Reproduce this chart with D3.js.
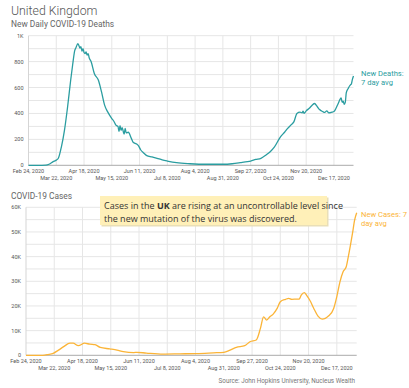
<!DOCTYPE html>
<html>
<head>
<meta charset="utf-8">
<script src="https://cdnjs.cloudflare.com/ajax/libs/d3/7.8.5/d3.min.js"></script>
<style>
  body { margin: 0; background: #fff; }
  svg { display: block; }
</style>
</head>
<body>
<div id="chart"></div>
<script>
// Data (7 day averages, UK)
var deathDates = ["2020-02-24","2020-03-08","2020-03-12","2020-03-15","2020-03-19","2020-03-22","2020-03-24","2020-03-27","2020-03-30","2020-04-02","2020-04-05","2020-04-07","2020-04-09","2020-04-10","2020-04-12","2020-04-13","2020-04-14","2020-04-15","2020-04-16","2020-04-17","2020-04-18","2020-04-19","2020-04-20","2020-04-21","2020-04-22","2020-04-23","2020-04-25","2020-04-28","2020-05-02","2020-05-05","2020-05-08","2020-05-11","2020-05-15","2020-05-17","2020-05-19","2020-05-21","2020-05-22","2020-05-23","2020-05-24","2020-05-25","2020-05-27","2020-05-28","2020-05-29","2020-05-31","2020-06-03","2020-06-05","2020-06-08","2020-06-10","2020-06-12","2020-06-15","2020-06-18","2020-06-23","2020-06-28","2020-07-03","2020-07-08","2020-07-17","2020-07-30","2020-08-16","2020-09-01","2020-09-09","2020-09-17","2020-09-24","2020-09-27","2020-10-02","2020-10-07","2020-10-12","2020-10-16","2020-10-20","2020-10-26","2020-10-30","2020-11-02","2020-11-05","2020-11-08","2020-11-11","2020-11-14","2020-11-16","2020-11-17","2020-11-18","2020-11-20","2020-11-23","2020-11-26","2020-11-28","2020-12-01","2020-12-03","2020-12-06","2020-12-08","2020-12-10","2020-12-12","2020-12-15","2020-12-17","2020-12-19","2020-12-21","2020-12-23","2020-12-24","2020-12-25","2020-12-26","2020-12-27","2020-12-28","2020-12-29","2020-12-31","2021-01-01","2021-01-02","2021-01-03","2021-01-04","2021-01-05"];
var deathValues = [0,0,1,8,28,40,54,143,272,450,656,780,887,905,938,925,905,915,880,900,870,862,875,850,862,830,797,708,656,566,464,412,361,340,310,300,260,305,270,290,240,285,250,255,208,175,165,150,120,95,75,65,54,42,33,20,12,8,8,12,20,28,33,45,54,80,105,140,220,255,285,310,335,400,410,405,418,400,420,440,465,477,450,430,415,408,420,405,410,415,440,475,510,520,485,495,470,485,560,595,610,620,630,665,689];

var caseDates = ["2020-02-24","2020-03-11","2020-03-16","2020-03-21","2020-03-26","2020-03-31","2020-04-06","2020-04-09","2020-04-14","2020-04-20","2020-04-25","2020-04-30","2020-05-05","2020-05-14","2020-05-21","2020-05-27","2020-06-06","2020-06-09","2020-06-18","2020-07-04","2020-07-20","2020-08-05","2020-08-21","2020-08-31","2020-09-06","2020-09-12","2020-09-20","2020-09-25","2020-10-01","2020-10-05","2020-10-08","2020-10-11","2020-10-14","2020-10-17","2020-10-21","2020-10-24","2020-10-29","2020-11-01","2020-11-04","2020-11-09","2020-11-11","2020-11-13","2020-11-16","2020-11-18","2020-11-22","2020-11-25","2020-11-29","2020-12-03","2020-12-06","2020-12-09","2020-12-14","2020-12-17","2020-12-20","2020-12-23","2020-12-26","2020-12-28","2021-01-01","2021-01-03","2021-01-05"];
var caseValues = [0,0,300,800,2100,3500,4900,4900,3900,4900,4500,4300,3200,2600,2100,1500,1100,1200,900,500,600,700,1000,1200,2100,3200,3900,5500,6200,10900,15600,14300,15600,16600,19000,21700,22700,23100,22700,22800,22800,24400,25400,24400,21700,19000,15900,14700,15000,15900,19000,23800,29800,33900,35900,40000,49500,54800,57800];

var xTicks = ["2020-02-24","2020-03-22","2020-04-18","2020-05-15","2020-06-11","2020-07-08","2020-08-04","2020-08-31","2020-09-27","2020-10-24","2020-11-20","2020-12-17"];
var deathTicks = [0, 200, 400, 600, 800, 1000];
var caseTicks = [0, 10000, 20000, 30000, 40000, 50000, 60000];

function Panel(params) {
    var attrs = Object.assign({
        svg: null,
        left: 28, right: 354, top: 36, bottom: 165,
        yMax: 1000, yStep: 100, yTicks: [],
        dates: [], values: [],
        color: '#2a9da0',
        labels: [], labelY: 0
    }, params);

    var parse = d3.timeParse("%Y-%m-%d");
    var fmt = d3.timeFormat("%b %-d, %Y");
    var data = attrs.dates.map((d, i) => ({ date: parse(d), value: attrs.values[i] }));

    var x = d3.scaleTime()
        .domain([parse("2020-02-24"), parse("2021-01-05")])
        .range([attrs.left, attrs.right]);
    var y = d3.scaleLinear()
        .domain([0, attrs.yMax])
        .range([attrs.bottom, attrs.top]);

    var g = attrs.svg.append('g');

    // horizontal grid (minor every yStep)
    g.selectAll('.hgrid').data(d3.range(attrs.yStep, attrs.yMax + 1, attrs.yStep))
        .enter().append('line')
        .attr('x1', attrs.left).attr('x2', attrs.right)
        .attr('y1', d => y(d)).attr('y2', d => y(d))
        .attr('stroke', '#e6e6e6').attr('stroke-width', 1);

    // vertical grid at date ticks
    var tickDates = xTicks.map(parse);
    g.selectAll('.vgrid').data(tickDates).enter().append('line')
        .attr('x1', d => x(d)).attr('x2', d => x(d))
        .attr('y1', attrs.top).attr('y2', attrs.bottom)
        .attr('stroke', d => +d === +tickDates[0] ? '#d5d5d5' : '#e6e6e6')
        .attr('stroke-width', 1);

    // y labels
    var yFmt = v => v === 0 ? '0' : (v >= 1000 ? d3.format("~")(v / 1000) + 'K' : v);
    g.selectAll('.ylab').data(attrs.yTicks).enter().append('text')
        .attr('x', attrs.left - 5).attr('y', d => y(d) + 2)
        .attr('text-anchor', 'end')
        .attr('font-size', 5.5).attr('fill', '#555')
        .text(yFmt);

    // x labels, alternating rows
    g.selectAll('.xlab').data(tickDates).enter().append('text')
        .attr('x', d => x(d)).attr('y', (d, i) => attrs.bottom + (i % 2 ? 15 : 7.5))
        .attr('text-anchor', 'middle')
        .attr('font-size', 5.5).attr('fill', '#555')
        .text(fmt);

    // baseline
    g.append('line')
        .attr('x1', attrs.left).attr('x2', attrs.right)
        .attr('y1', y(0)).attr('y2', y(0))
        .attr('stroke', '#aaa').attr('stroke-width', 1);

    var line = d3.line()
        .x(d => x(d.date))
        .y(d => y(d.value))
        .curve(d3.curveMonotoneX);

    g.append('path').datum(data)
        .attr('d', line)
        .attr('fill', 'none')
        .attr('stroke', attrs.color)
        .attr('stroke-width', 1.3)
        .attr('stroke-linejoin', 'round');

    g.selectAll('.lab').data(attrs.labels).enter().append('text')
        .attr('x', 361).attr('y', (d, i) => attrs.labelY + i * 9)
        .attr('font-size', 7.6).attr('fill', attrs.color)
        .text(d => d);

    return { x: x, y: y };
}

var svg = d3.select('#chart').append('svg')
    .attr('width', 409).attr('height', 388)
    .attr('font-family', 'Roboto, sans-serif');

svg.append('text').attr('x', 11).attr('y', 14.5)
    .attr('font-size', 12.3).attr('font-weight', 300).attr('fill', '#555').text('United Kingdom');
svg.append('text').attr('x', 11).attr('y', 26.5)
    .attr('font-size', 8.4).attr('fill', '#666').text('New Daily COVID-19 Deaths');
svg.append('text').attr('x', 11).attr('y', 198.5)
    .attr('font-size', 8.4).attr('fill', '#666').text('COVID-19 Cases');

Panel({
    svg: svg, left: 28.5, right: 353.5, top: 35.7, bottom: 165.3,
    yMax: 1000, yStep: 100, yTicks: deathTicks,
    dates: deathDates, values: deathValues,
    color: '#2a9da0', labels: ['New Deaths:', '7 day avg'], labelY: 76
});

Panel({
    svg: svg, left: 26, right: 356.7, top: 207.3, bottom: 355.3,
    yMax: 60000, yStep: 5000, yTicks: caseTicks,
    dates: caseDates, values: caseValues,
    color: '#fbb437', labels: ['New Cases: 7', 'day avg'], labelY: 217
});

// annotation box
var note = svg.append('g');
note.append('rect')
    .attr('x', 101.5).attr('y', 197.5).attr('width', 227).attr('height', 29)
    .attr('fill', '#e9dfb8');
note.append('rect')
    .attr('x', 100).attr('y', 196).attr('width', 227).attr('height', 29)
    .attr('fill', '#fff0b8');
var t1 = note.append('text').attr('x', 104).attr('y', 208.5)
    .attr('font-size', 9).attr('fill', '#333')
    .attr('font-family', "'Comic Sans MS', 'Open Sans', sans-serif");
t1.append('tspan').text('Cases in the ');
t1.append('tspan').attr('font-weight', 'bold').text('UK');
t1.append('tspan').text(' are rising at an uncontrollable level since');
note.append('text').attr('x', 104).attr('y', 221.5)
    .attr('font-size', 9).attr('fill', '#333')
    .attr('font-family', "'Comic Sans MS', 'Open Sans', sans-serif")
    .text('the new mutation of the virus was discovered.');

svg.append('text').attr('x', 355).attr('y', 382.5)
    .attr('text-anchor', 'end').attr('font-size', 6.3).attr('fill', '#777')
    .text('Source: John Hopkins University, Nucleus Wealth');
</script>
</body>
</html>
